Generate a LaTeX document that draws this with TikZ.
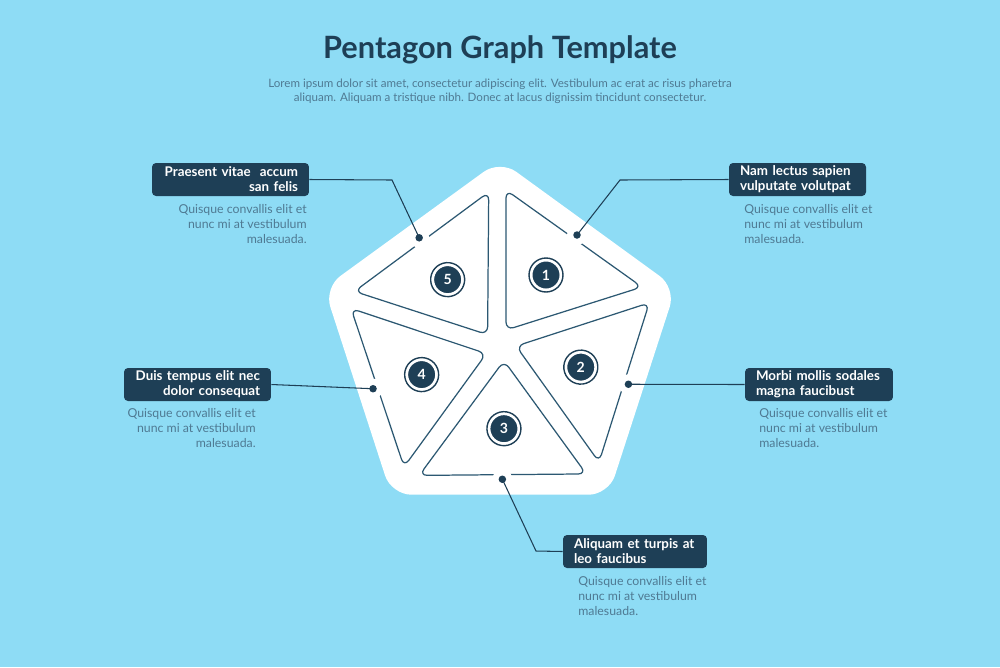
\documentclass[tikz,border=0pt]{standalone}
\usepackage{fontspec}
\setmainfont{Lato}
\begin{document}
\begin{tikzpicture}[x=0.02cm,y=-0.02cm,
  box/.style={fill=dk,rounded corners=0.08cm,text=white,font=\bfseries\fontsize{7.6}{8.6}\selectfont,minimum height=0.66cm,inner xsep=0.22cm,inner ysep=0pt},
  desc/.style={text=gr,font=\fontsize{7}{8.6}\selectfont,inner sep=0pt},
  conn/.style={draw=dk,line width=0.6pt},
  tri/.style={draw=ln,line width=0.7pt,rounded corners=0.16cm},
  dot/.style={circle,fill=dk,inner sep=0pt,minimum size=0.15cm},
  num/.style={circle,fill=dk,draw=white,line width=1.1pt,minimum size=0.58cm,inner sep=0pt,text=white,font=\bfseries\fontsize{8}{8}\selectfont}]
\definecolor{bg}{HTML}{8EDCF5}
\definecolor{dk}{HTML}{1E3F56}
\definecolor{ln}{HTML}{2C5872}
\definecolor{gr}{HTML}{4F7A93}
\fill[bg] (0,0) rectangle (1000,667);
\useasboundingbox (0,0) rectangle (1000,667);
\node[text=dk,font=\bfseries\fontsize{17.5}{20}\selectfont] (title) at (500,50) {Pentagon Graph Template};
\node[text=gr,font=\fontsize{6.6}{8}\selectfont,align=center] (sub) at (500,91) {Lorem ipsum dolor sit amet, consectetur adipiscing elit. Vestibulum ac erat ac risus pharetra\\aliquam. Aliquam a tristique nibh. Donec at lacus dignissim tincidunt consectetur.};
\fill[white,rounded corners=0.4cm] (500,160) -- (675.9,287.8) -- (608.7,494.7) -- (391.3,494.7) -- (324.1,287.8) -- cycle;
\foreach \k in {1,...,5}{
\begin{scope}[rotate around={-72*(\k-1):(500,345)}]
  \draw[tri] (506,190) -- (642,287) -- (506,330) -- cycle;
  \fill[white] (577,235) circle (0.2cm);
  \node[dot] (d\k) at (577,235) {};
  \draw[dk,line width=0.8pt] (546,275) circle (0.34cm);
  \node[num] (n\k) at (546,275) {\k};
\end{scope}}
% boxes
\node[box,text width=2.7cm,align=right] (b5) at (230.5,179.5) {Praesent vitae\ \ accum\\san felis};
\node[box,text width=2.3cm,align=left] (b1) at (797.5,179.5) {Nam lectus sapien\\vulputate volutpat};
\node[box,text width=2.5cm,align=right] (b4) at (197.5,384.5) {Duis tempus elit nec\\dolor consequat};
\node[box,text width=2.52cm,align=left] (b2) at (819,384.5) {Morbi mollis sodales\\magna faucibust};
\node[box,text width=2.44cm,align=left] (b3) at (635,551.5) {Aliquam et turpis at\\leo faucibus};
% descriptions
\node[desc,anchor=north east,align=right] (t5) at (307,204) {Quisque convallis elit et\\nunc mi at vestibulum\\malesuada.};
\node[desc,anchor=north west,align=left] (t1) at (744,204) {Quisque convallis elit et\\nunc mi at vestibulum\\malesuada.};
\node[desc,anchor=north east,align=right] (t4) at (256,408) {Quisque convallis elit et\\nunc mi at vestibulum\\malesuada.};
\node[desc,anchor=north west,align=left] (t2) at (759,408) {Quisque convallis elit et\\nunc mi at vestibulum\\malesuada.};
\node[desc,anchor=north west,align=left] (t3) at (578,576) {Quisque convallis elit et\\nunc mi at vestibulum\\malesuada.};
% connectors
\coordinate (k5) at (392,180);
\coordinate (k1) at (620,180);
\coordinate (k3) at (536,551);
\draw[conn] (b5.east) -- (k5) -- (d5.center);
\draw[conn] (b1.west) -- (k1) -- (d1.center);
\draw[conn] (b4.east) -- (d4.center);
\draw[conn] (b2.west) -- (d2.center);
\draw[conn] (d3.center) -- (k3) -- (b3.west);
\end{tikzpicture}
\end{document}
